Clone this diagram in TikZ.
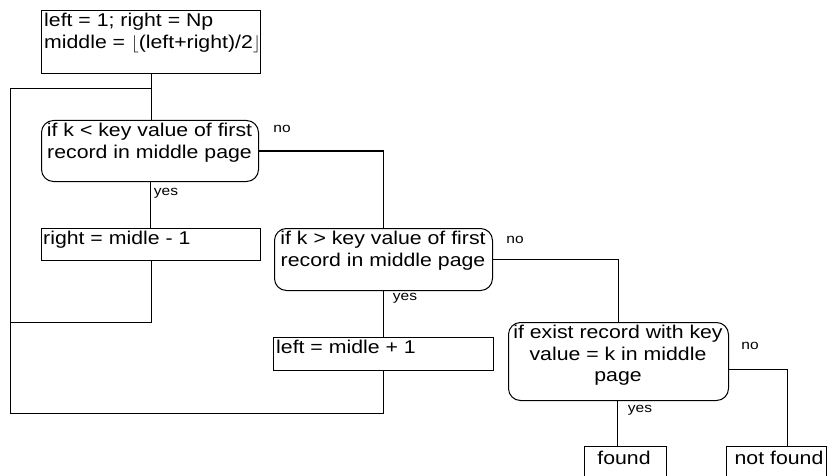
\documentclass[tikz,border=0pt]{standalone}
\usepackage{fontspec}
\setmainfont{Liberation Sans}[FakeStretch=1.15]
\begin{document}
\begin{tikzpicture}[x=1pt,y=-1pt,
  link/.style={line width=1pt},
  procbox/.style={draw, line width=1pt, rectangle, anchor=north west, inner sep=0pt},
  decbox/.style={draw, line width=1pt, rounded corners=12pt, anchor=north west, inner sep=0pt},
  body/.style={font=\fontsize{18.5}{21.5}\selectfont, inner sep=0pt},
  lab/.style={font=\fontsize{13.5}{15}\selectfont, inner sep=0pt}]
\useasboundingbox (0,0) rectangle (827,476);
\clip (0,0) rectangle (827,476);

% process boxes
\node[procbox, minimum width=219pt, minimum height=63pt] (init) at (41,10) {};
\node[body, anchor=north west, align=left] (initT) at (44,13)
  {left = 1; right = Np\\middle = $\lfloor$(left+right)/2$\rfloor$};

\node[procbox, minimum width=219pt, minimum height=32pt] (rbox) at (41,228) {};
\node[body, anchor=north west] (rboxT) at (43,231) {right = midle - 1};

\node[procbox, minimum width=220pt, minimum height=33pt] (lbox) at (273,337) {};
\node[body, anchor=north west] (lboxT) at (276,340) {left = midle + 1};

\node[procbox, minimum width=82pt, minimum height=60pt] (found) at (584,446) {};
\node[body, anchor=north] (foundT) at (624,451) {found};

\node[procbox, minimum width=100pt, minimum height=60pt] (nf) at (726,446) {};
\node[body, anchor=north] (nfT) at (779,451) {not found};

% decisions
\node[decbox, minimum width=217pt, minimum height=61pt] (d1) at (41,120) {};
\node[body, anchor=north, align=center] (d1T) at (149.5,123)
  {if k < key value of first\\record in middle page};

\node[decbox, minimum width=218pt, minimum height=62pt] (d2) at (274,228) {};
\node[body, anchor=north, align=center] (d2T) at (383,231)
  {if k > key value of first\\record in middle page};

\node[decbox, minimum width=220pt, minimum height=78pt] (d3) at (508,322) {};
\node[body, anchor=north, align=center] (d3T) at (618,325)
  {if exist record with key\\value = k in middle\\page};

% branch labels
\node[lab] (no1) at (282,129) {no};
\node[lab] (yes1) at (166,193) {yes};
\node[lab] (no2) at (515,240) {no};
\node[lab] (yes2) at (405,298) {yes};
\node[lab] (no3) at (750,346) {no};
\node[lab] (yes3) at (640,410) {yes};

% corner points of the loop-back lines
\coordinate (c1) at (10,89);
\coordinate (c2) at (10,322);
\coordinate (c3) at (10,413);
\coordinate (fdtop) at (617,446);
\coordinate (nftop) at (787,446);

% connectors
\draw[link] (init.south) -- (init.south |- d1.north);
\draw[link] (c1 -| init.south) -- (c1) -- (c3) -| (lbox.south);
\draw[link] (rbox.south) |- (c2);
\draw[link] (d1.south) -- (d1.south |- rbox.north);
\draw[link] (d1.east) -| (d2.north);
\draw[link] (d2.south) -- (d2.south |- lbox.north);
\draw[link] (d2.east) -| (d3.north);
\draw[link] (fdtop |- d3.south) -- (fdtop);
\draw[link] ([yshift=-8pt]d3.east) -| (nftop);
\end{tikzpicture}
\end{document}
